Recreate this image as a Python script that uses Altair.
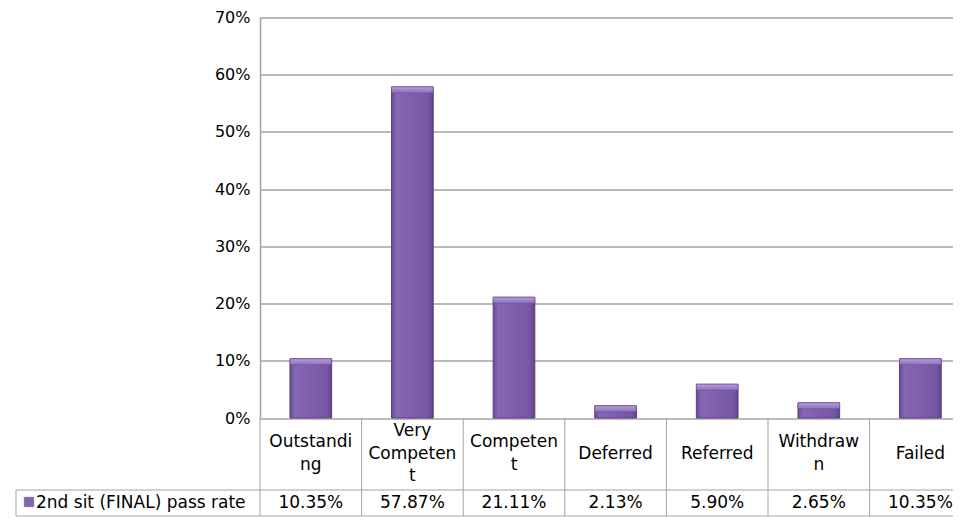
import altair as alt
import pandas as pd

# ---- data ----
categories = ["Outstanding", "Very Competent", "Competent", "Deferred",
              "Referred", "Withdrawn", "Failed"]
# labels as wrapped in the chart's data table
table_labels = ["Outstandi\nng", "Very\nCompeten\nt", "Competen\nt", "Deferred",
                "Referred", "Withdraw\nn", "Failed"]
pass_rate = [0.1035, 0.5787, 0.2111, 0.0213, 0.0590, 0.0265, 0.1035]
series_name = "2nd sit (FINAL) pass rate"
y_ticks = [0, 0.1, 0.2, 0.3, 0.4, 0.5, 0.6, 0.7]

df = pd.DataFrame({
    "idx": list(range(len(categories))),
    "category": categories,
    "label": table_labels,
    "nlines": [lbl.count("\n") + 1 for lbl in table_labels],
    "rate": pass_rate,
})

# ---- layout constants (pixels, view coordinates) ----
W, H = 693, 400.5
COL_W = 101.6
COLS_VISIBLE = W / COL_W      # the last column is cut by the right edge
FONT = "DejaVu Sans"
LINE = "#A3A3A3"
CAT_CENTER = H + 35.5
LINE_H = 22.5
ROW_SPLIT = H + 72
VAL_Y = H + 85
TABLE_BOTTOM = H + 98
LEG_LEFT = -244

xscale = alt.Scale(domain=[0, COLS_VISIBLE], nice=False, zero=False)
yscale = alt.Scale(domain=[0, 0.7], nice=False)

base = alt.Chart(df).transform_calculate(
    x0="datum.idx + 0.295", x1="datum.idx + 0.705", xc="datum.idx + 0.5"
)

bar_fill = alt.Gradient(
    gradient="linear", x1=0, x2=1, y1=0, y2=0,
    stops=[alt.GradientStop(offset=0, color="#6A4B95"),
           alt.GradientStop(offset=0.12, color="#8667B3"),
           alt.GradientStop(offset=0.5, color="#7F5FAB"),
           alt.GradientStop(offset=0.88, color="#7657A2"),
           alt.GradientStop(offset=1, color="#604488")])

bars = base.mark_bar(fill=bar_fill, stroke="#5A3D80", strokeWidth=1).encode(
    x=alt.X("x0:Q", scale=xscale, axis=None),
    x2="x1:Q",
    y=alt.Y("rate:Q", scale=yscale,
            axis=alt.Axis(values=y_ticks, format=".0%", title=None, ticks=False,
                          domain=True, domainColor=LINE, domainWidth=1.5,
                          grid=True, gridColor=LINE, gridWidth=1.5,
                          labelFont=FONT, labelFontSize=16, labelColor="#000000",
                          labelPadding=10)),
    y2=alt.datum(0),
)

bevel_fill = alt.Gradient(
    gradient="linear", x1=0, x2=0, y1=0, y2=1,
    stops=[alt.GradientStop(offset=0, color="#B49EDC"),
           alt.GradientStop(offset=1, color="#8D6FBB")])

bevel = base.mark_bar(fill=bevel_fill, y2Offset=6, stroke="#6A4B95",
                      strokeWidth=0.5).encode(
    x=alt.X("x0:Q", scale=xscale, axis=None),
    x2="x1:Q",
    y=alt.Y("rate:Q", scale=yscale),
    y2="rate:Q",
)

# ---- data table ----
col_lines = base.mark_rule(color=LINE, strokeWidth=1).encode(
    x=alt.X("idx:Q", scale=xscale, axis=None),
    y=alt.value(H),
    y2=alt.value(TABLE_BOTTOM),
)


def cat_layer(n):
    return base.transform_filter(f"datum.nlines == {n}").mark_text(
        font=FONT, fontSize=17, lineBreak="\n", lineHeight=LINE_H,
        baseline="middle", align="center", color="#000000").encode(
        x=alt.X("xc:Q", scale=xscale, axis=None),
        y=alt.value(CAT_CENTER - (n - 1) * LINE_H / 2),
        text="label:N",
    )


cat_text = [cat_layer(n) for n in (1, 2, 3)]

val_text = base.mark_text(font=FONT, fontSize=17, baseline="middle", align="center",
                          color="#000000").encode(
    x=alt.X("xc:Q", scale=xscale, axis=None),
    y=alt.value(VAL_Y),
    text=alt.Text("rate:Q", format=".2%"),
)

one = alt.Chart(alt.Data(values=[{"series": series_name}]))

h_lines = [
    one.mark_rule(color=LINE, strokeWidth=1).encode(
        x=alt.value(LEG_LEFT), x2=alt.value(W), y=alt.value(ROW_SPLIT)),
    one.mark_rule(color=LINE, strokeWidth=1).encode(
        x=alt.value(LEG_LEFT), x2=alt.value(W), y=alt.value(TABLE_BOTTOM)),
    one.mark_rule(color=LINE, strokeWidth=1).encode(
        x=alt.value(LEG_LEFT), y=alt.value(ROW_SPLIT), y2=alt.value(TABLE_BOTTOM)),
]

legend_swatch = one.mark_square(size=90, color="#8264AF", stroke="#6A4B95",
                                strokeWidth=0.5, opacity=1).encode(
    x=alt.value(-231), y=alt.value(VAL_Y - 1))

legend_text = one.mark_text(font=FONT, fontSize=17, align="left", baseline="middle",
                            color="#000000").encode(
    x=alt.value(-224), y=alt.value(VAL_Y), text="series:N")

chart = alt.layer(
    bars, bevel, col_lines, *cat_text, val_text, *h_lines, legend_swatch, legend_text
).properties(
    width=W, height=H,
    autosize=alt.AutoSizeParams(type="none"),
    padding={"left": 252, "top": 9.5, "right": 0, "bottom": 99},
    background="#FFFFFF",
).configure_view(stroke=None)

chart.save("out.html", embed_options={"renderer": "svg", "actions": False})
